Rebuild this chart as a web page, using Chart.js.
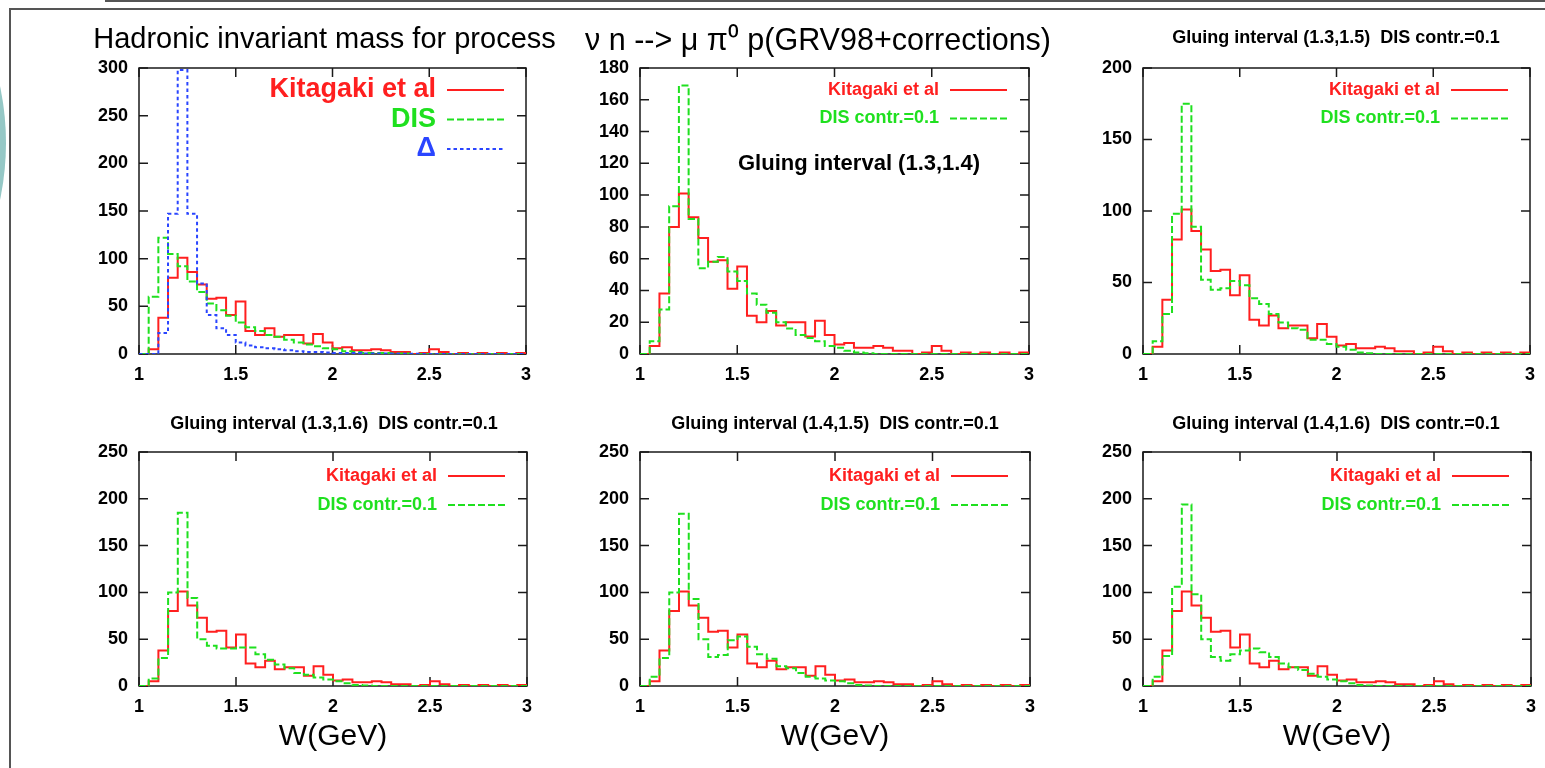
<!DOCTYPE html>
<html>
<head>
<meta charset="utf-8">
<script src="https://cdn.jsdelivr.net/npm/chart.js@4.4.1/dist/chart.umd.min.js"></script>
<style>
  html, body { margin: 0; padding: 0; background: #fff; }
  body { width: 1545px; height: 768px; position: relative; overflow: hidden; }
  canvas { position: absolute; }
  .deco { position: absolute; left: -542px; top: -131px; width: 548px; height: 548px; border-radius: 50%; background: #95c8c6; }
  .rule { position: absolute; background: #555; }
</style>
</head>
<body>
<div class="deco"></div>
<div class="rule" style="left:105px;top:0;width:1440px;height:2px"></div>
<div class="rule" style="left:9px;top:8px;width:1536px;height:2px"></div>
<div class="rule" style="left:9px;top:8px;width:2px;height:760px"></div>
<canvas id="p1"></canvas>
<canvas id="p2"></canvas>
<canvas id="p3"></canvas>
<canvas id="p4"></canvas>
<canvas id="p5"></canvas>
<canvas id="p6"></canvas>
<script>
// bin edges of W (GeV), 0.05 wide
const binEdges = [1.00, 1.05, 1.10, 1.15, 1.20, 1.25, 1.30, 1.35, 1.40, 1.45,
                  1.50, 1.55, 1.60, 1.65, 1.70, 1.75, 1.80, 1.85, 1.90, 1.95,
                  2.00, 2.05, 2.10, 2.15, 2.20, 2.25, 2.30, 2.35, 2.40, 2.45,
                  2.50, 2.55, 2.60, 2.65, 2.70, 2.75, 2.80, 2.85, 2.90, 2.95, 3.00];

// Kitagaki et al data (same in every panel)
const kitagaki = [0, 5, 38, 80, 101, 86, 73, 58, 59, 41,
                  55, 24, 20, 27, 18, 20, 20, 11, 21, 12,
                  6, 7, 4, 4, 5, 4, 2, 2, 0, 1,
                  5, 2, 0, 1, 0, 1, 0, 1, 0, 1];

// panel 1: pure DIS and Delta
const disP1 = [0, 60, 122, 105, 92, 76, 65, 53, 46, 40,
               33, 28, 24, 20, 18, 15, 12, 10, 8, 6,
               5, 3, 2, 1, 1, 1, 0.5, 0.5, 0, 0,
               0, 0, 0, 0, 0, 0, 0, 0, 0, 0];
const deltaP1 = [0, 0, 22, 147, 298, 147, 74, 41, 27, 20,
                 12, 9, 7, 6, 5, 4, 3, 2, 2, 1.5,
                 1, 1, 1, 0.5, 0.5, 0.5, 0.3, 0.3, 0.2, 0,
                 0, 0, 0, 0, 0, 0, 0, 0, 0, 0];

// glued models, DIS contr.=0.1
const disGlue13_14 = [0, 8, 28, 93, 169, 85, 54, 58, 61, 52,
                      46, 38, 31, 26, 20, 16, 12, 10, 8, 5,
                      4, 2, 1, 0.5, 0, 0, 0, 0, 0, 0,
                      0, 0, 0, 0, 0, 0, 0, 0, 0, 0];
const disGlue13_15 = [0, 9, 28, 98, 175, 89, 52, 45, 46, 51,
                      48, 39, 35, 28, 22, 18, 17, 10, 10, 7,
                      5, 3, 1, 0.5, 0, 0, 0, 0, 0, 0,
                      0, 0, 0, 0, 0, 0, 0, 0, 0, 0];
const disGlue13_16 = [0, 8, 30, 100, 185, 94, 50, 43, 40, 40,
                      41, 41, 34, 28, 23, 19, 14, 12, 9, 7,
                      5, 3, 1, 0.5, 0, 0, 0, 0, 0, 0,
                      0, 0, 0, 0, 0, 0, 0, 0, 0, 0];
const disGlue14_15 = [0, 10, 30, 100, 184, 93, 50, 31, 33, 49,
                      53, 42, 34, 29, 21, 19, 14, 10, 8, 6,
                      5, 3, 1, 0.5, 0, 0, 0, 0, 0, 0,
                      0, 0, 0, 0, 0, 0, 0, 0, 0, 0];
const disGlue14_16 = [0, 10, 32, 106, 194, 98, 50, 31, 27, 34,
                      38, 40, 36, 31, 24, 20, 17, 13, 10, 7,
                      5, 3, 1, 0.5, 0, 0, 0, 0, 0, 0,
                      0, 0, 0, 0, 0, 0, 0, 0, 0, 0];

// tick labels
const xTicks = [1, 1.5, 2, 2.5, 3];
const yTicks300 = [0, 50, 100, 150, 200, 250, 300];
const yTicks180 = [0, 20, 40, 60, 80, 100, 120, 140, 160, 180];
const yTicks200 = [0, 50, 100, 150, 200];
const yTicks250 = [0, 50, 100, 150, 200, 250];

const FONT = '"Liberation Sans", Arial, Helvetica, sans-serif';

const lineStyle = {
  red:   { color: '#ff1f1f', dash: [] },
  green: { color: '#1fe01f', dash: [7, 3] },
  blue:  { color: '#2a45ff', dash: [3.5, 3] }
};

function steps(values) {
  return binEdges.map((x, i) => ({ x: x, y: values[Math.min(i, values.length - 1)] }));
}

// frame with inward ticks, title, key and notes, gnuplot style
const gnuplotFrame = {
  id: 'gnuplotFrame',
  beforeDatasetsDraw(chart) {
    const { ctx, chartArea: a, scales: { x, y } } = chart;
    ctx.save();
    ctx.strokeStyle = '#1a1a1a';
    ctx.lineWidth = 1.5;
    ctx.strokeRect(a.left, a.top, a.right - a.left, a.bottom - a.top);
    ctx.beginPath();
    x.ticks.forEach(t => {
      const px = x.getPixelForValue(t.value);
      ctx.moveTo(px, a.bottom); ctx.lineTo(px, a.bottom - 9);
      ctx.moveTo(px, a.top); ctx.lineTo(px, a.top + 9);
    });
    y.ticks.forEach(t => {
      const py = y.getPixelForValue(t.value);
      ctx.moveTo(a.left, py); ctx.lineTo(a.left + 9, py);
      ctx.moveTo(a.right, py); ctx.lineTo(a.right - 9, py);
    });
    ctx.stroke();
    ctx.restore();
  },
  afterDraw(chart, args, opts) {
    const { ctx, chartArea: a } = chart;
    const ox = chart.canvas.offsetLeft, oy = chart.canvas.offsetTop;
    ctx.save();
    ctx.textBaseline = 'middle';

    // title
    ctx.textAlign = 'center';
    ctx.fillStyle = '#000';
    ctx.font = opts.title.weight + ' ' + opts.title.size + 'px ' + FONT;
    ctx.fillText(opts.title.text, opts.title.x - ox, opts.title.y - oy);

    // key
    ctx.textAlign = 'right';
    ctx.font = 'bold ' + opts.keySize + 'px ' + FONT;
    chart.data.datasets.forEach((ds, i) => {
      const yy = a.top + opts.keyTop + i * opts.keyGap;
      ctx.fillStyle = ds.borderColor;
      ctx.fillText(ds.label, a.right - 90, yy);
      ctx.strokeStyle = ds.borderColor;
      ctx.lineWidth = 2;
      ctx.setLineDash(ds.borderDash || []);
      ctx.beginPath();
      ctx.moveTo(a.right - 79, yy);
      ctx.lineTo(a.right - 22, yy);
      ctx.stroke();
    });

    if (opts.note) {
      ctx.setLineDash([]);
      ctx.fillStyle = '#000';
      ctx.textAlign = 'center';
      ctx.font = 'bold 22px ' + FONT;
      ctx.fillText(opts.note.text, opts.note.x - ox, opts.note.y - oy);
    }
    ctx.restore();
  }
};

const panels = [
  { id: 'p1', area: [139, 68, 526, 354], top: 14, yMax: 300, yTicks: yTicks300,
    title: { text: 'Hadronic invariant mass for process', size: 29, weight: 'normal', x: 324.5, y: 40 },
    series: [['Kitagaki et al', kitagaki, 'red'], ['DIS', disP1, 'green'], ['Δ', deltaP1, 'blue']],
    keySize: 27, keyTop: 22, keyGap: 29.5, xTitle: false },
  { id: 'p2', area: [640, 68, 1029, 354], top: 14, yMax: 180, yTicks: yTicks180,
    title: { text: 'ν n --> μ π⁰ p(GRV98+corrections)', size: 30.5, weight: 'normal', x: 818, y: 42 },
    series: [['Kitagaki et al', kitagaki, 'red'], ['DIS contr.=0.1', disGlue13_14, 'green']],
    keySize: 18, keyTop: 22, keyGap: 28.5, xTitle: false,
    note: { text: 'Gluing interval (1.3,1.4)', x: 859, y: 164 } },
  { id: 'p3', area: [1143, 68, 1530, 354], top: 14, yMax: 200, yTicks: yTicks200,
    title: { text: 'Gluing interval (1.3,1.5)  DIS contr.=0.1', size: 18, weight: 'bold', x: 1336, y: 38 },
    series: [['Kitagaki et al', kitagaki, 'red'], ['DIS contr.=0.1', disGlue13_15, 'green']],
    keySize: 18, keyTop: 22, keyGap: 28.5, xTitle: false },
  { id: 'p4', area: [139, 452, 527, 686], top: 396, yMax: 250, yTicks: yTicks250,
    title: { text: 'Gluing interval (1.3,1.6)  DIS contr.=0.1', size: 18, weight: 'bold', x: 334, y: 424 },
    series: [['Kitagaki et al', kitagaki, 'red'], ['DIS contr.=0.1', disGlue13_16, 'green']],
    keySize: 18, keyTop: 24, keyGap: 29, xTitle: true },
  { id: 'p5', area: [640, 452, 1030, 686], top: 396, yMax: 250, yTicks: yTicks250,
    title: { text: 'Gluing interval (1.4,1.5)  DIS contr.=0.1', size: 18, weight: 'bold', x: 835, y: 424 },
    series: [['Kitagaki et al', kitagaki, 'red'], ['DIS contr.=0.1', disGlue14_15, 'green']],
    keySize: 18, keyTop: 24, keyGap: 29, xTitle: true },
  { id: 'p6', area: [1143, 452, 1531, 686], top: 396, yMax: 250, yTicks: yTicks250,
    title: { text: 'Gluing interval (1.4,1.6)  DIS contr.=0.1', size: 18, weight: 'bold', x: 1336, y: 424 },
    series: [['Kitagaki et al', kitagaki, 'red'], ['DIS contr.=0.1', disGlue14_16, 'green']],
    keySize: 18, keyTop: 24, keyGap: 29, xTitle: true }
];

panels.forEach(p => {
  const [L, T, R, B] = p.area;
  const padL = 15, padR = 45, padB = 4;
  const yW = 55;
  const xH = p.xTitle ? 69 : 40;

  const canvas = document.getElementById(p.id);
  const left = L - yW - padL;
  canvas.style.left = left + 'px';
  canvas.style.top = p.top + 'px';
  canvas.width = R + padR - left;
  canvas.height = B + xH + padB - p.top;

  new Chart(canvas.getContext('2d'), {
    type: 'line',
    data: {
      datasets: p.series.map((s, i) => ({
        label: s[0],
        data: steps(s[1]),
        borderColor: lineStyle[s[2]].color,
        borderDash: lineStyle[s[2]].dash,
        borderWidth: 2,
        stepped: true,
        pointRadius: 0,
        fill: false,
        order: 3 - i
      }))
    },
    options: {
      responsive: false,
      animation: false,
      devicePixelRatio: 1,
      layout: { padding: { left: padL, right: padR, top: T - p.top, bottom: padB } },
      plugins: {
        legend: { display: false },
        tooltip: { enabled: false },
        title: { display: false },
        gnuplotFrame: { title: p.title, keySize: p.keySize, keyTop: p.keyTop, keyGap: p.keyGap, note: p.note }
      },
      scales: {
        x: {
          type: 'linear', min: 1, max: 3,
          grid: { display: false, drawTicks: false },
          border: { display: false },
          afterBuildTicks: axis => { axis.ticks = xTicks.map(v => ({ value: v })); },
          afterFit: axis => { axis.height = xH; },
          ticks: {
            autoSkip: false, maxRotation: 0, padding: 10, color: '#000',
            font: { family: FONT, size: 18, weight: 'bold' },
            callback: v => String(v)
          },
          title: {
            display: p.xTitle, text: 'W(GeV)', color: '#000',
            font: { family: FONT, size: 30, weight: 'normal' },
            padding: { top: 0, bottom: 0 }
          }
        },
        y: {
          min: 0, max: p.yMax,
          grid: { display: false, drawTicks: false },
          border: { display: false },
          afterBuildTicks: axis => { axis.ticks = p.yTicks.map(v => ({ value: v })); },
          afterFit: axis => { axis.width = yW; },
          ticks: {
            autoSkip: false, padding: 11, color: '#000',
            font: { family: FONT, size: 18, weight: 'bold' },
            callback: v => String(v)
          }
        }
      }
    },
    plugins: [gnuplotFrame]
  });
});
</script>
</body>
</html>
